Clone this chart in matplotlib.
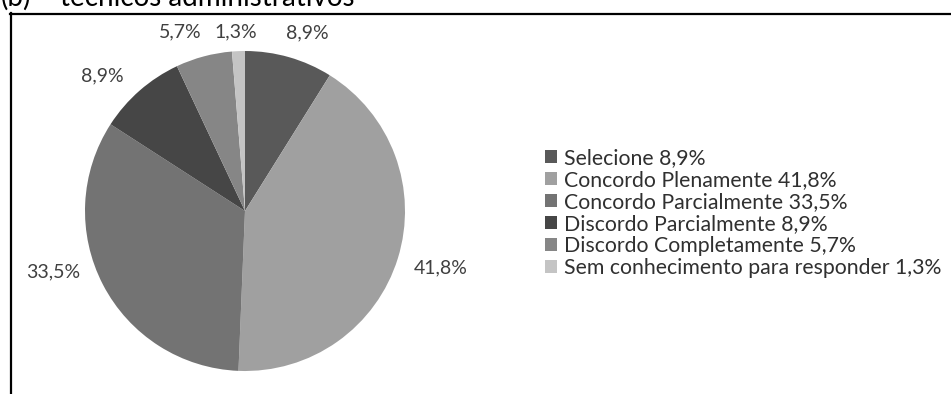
import matplotlib
matplotlib.use("Agg")
import matplotlib.pyplot as plt
import numpy as np
from matplotlib.lines import Line2D
from matplotlib.patches import Patch

categories = ["Selecione", "Concordo Plenamente", "Concordo Parcialmente",
              "Discordo Parcialmente", "Discordo Completamente",
              "Sem conhecimento para responder"]
values = [8.9, 41.8, 33.5, 8.9, 5.7, 1.3]
value_labels = ["8,9%", "41,8%", "33,5%", "8,9%", "5,7%", "1,3%"]
colors = ["#595959", "#a0a0a0", "#737373", "#464646", "#868686", "#c4c4c4"]
title_prefix = "(b)"
title = "técnicos administrativos"

W, H = 951, 394
fig = plt.figure(figsize=(W / 100, H / 100), dpi=100)
plt.rcParams['font.family'] = ['Lato', 'DejaVu Sans']

cx, cy, r = 245, 211, 160
ax = fig.add_axes([(cx - r) / W, (H - cy - r) / H, 2 * r / W, 2 * r / H])
wedges, _ = ax.pie(values, colors=colors, startangle=90, counterclock=False,
                   radius=1.0, wedgeprops=dict(linewidth=0))
ax.set_xlim(-1, 1)
ax.set_ylim(-1, 1)
ax.set_aspect('equal')
ax.axis('off')

# label placement: radial distance (relative to radius) and angular shift (deg)
dists = [1.18, 1.275, 1.26, 1.23, 1.19, 1.12]
shifts = [-3.2, 1.1, -9.7, 5.3, 5.1, 0.6]
for w, lab, d, s in zip(wedges, value_labels, dists, shifts):
    ang = np.deg2rad((w.theta1 + w.theta2) / 2 + s)
    ax.text(d * np.cos(ang), d * np.sin(ang), lab, ha='center', va='center',
            fontsize=14, color='#404040', clip_on=False)

handles = [Patch(facecolor=c, edgecolor='none') for c in colors]
leg_labels = [f"{c} {v}" for c, v in zip(categories, value_labels)]
leg = fig.legend(handles, leg_labels, loc='upper left',
                 bbox_to_anchor=(541 / W, 1 - 144 / H), frameon=False,
                 fontsize=15.3, handlelength=0.55, handleheight=0.55,
                 handletextpad=0.35, labelspacing=0.09, borderaxespad=0,
                 borderpad=0.2)
for t in leg.get_texts():
    t.set_color('#303030')

# frame lines
fig.add_artist(Line2D([10.5 / W, 10.5 / W], [0, 1 - 13 / H], color='black',
                      linewidth=1.6, transform=fig.transFigure))
fig.add_artist(Line2D([10 / W, 1], [1 - 14 / H, 1 - 14 / H], color='black',
                      linewidth=1.6, transform=fig.transFigure))

fig.text(1 / W, 1 - 6 / H, title_prefix, ha='left', va='baseline',
         fontsize=20, color='black')
fig.text(60 / W, 1 - 6 / H, title, ha='left', va='baseline', fontsize=20,
         color='black')

fig.savefig("out.png", dpi=100, facecolor='white')
